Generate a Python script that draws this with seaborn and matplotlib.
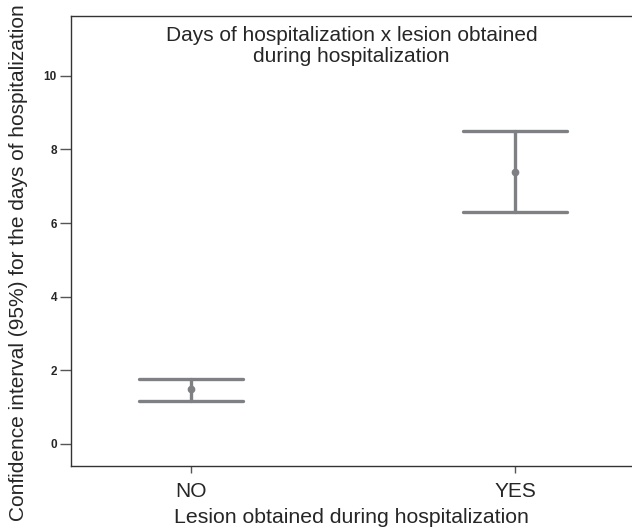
import matplotlib
matplotlib.use("Agg")
import matplotlib.pyplot as plt
import seaborn as sns
import pandas as pd
import numpy as np

# Lesion obtained during hospitalization: mean days and 95% CI bounds
groups = ['NO', 'YES']
ci_lower = [1.17, 6.30]
means = [1.48, 7.40]
ci_upper = [1.77, 8.51]

# long table: lower / mean / upper per group, so that the median is the mean
# and the full percentile interval is the CI
rows = []
for g, lo, m, hi in zip(groups, ci_lower, means, ci_upper):
    for v in (lo, m, hi):
        rows.append({'group': g, 'days': v})
df = pd.DataFrame(rows)

sns.set_style("white")
plt.rcParams['font.family'] = ['Liberation Sans', 'DejaVu Sans']

fig = plt.figure(figsize=(6.32, 5.27), dpi=100)
ax = fig.add_axes([0.112, 0.115, 0.888, 0.855])

grey = '#7f8083'
sns.pointplot(data=df, x='group', y='days', order=groups,
              estimator=np.median, errorbar=('pi', 100),
              linestyle='none', color=grey, markersize=3.5,
              capsize=0.32, err_kws={'linewidth': 2.4}, ax=ax)

ax.set_xlim(-0.37, 1.36)
ax.set_ylim(-0.61, 11.63)
ax.set_yticks([0, 2, 4, 6, 8, 10])

for side in ['left', 'bottom', 'top']:
    ax.spines[side].set_color('#333333')
    ax.spines[side].set_linewidth(1.0)
ax.spines['right'].set_visible(False)

ax.tick_params(axis='y', direction='out', length=8, width=1, color='#555555',
               pad=2, labelsize=8.5, left=True)
ax.tick_params(axis='x', direction='out', length=5, width=1, color='#555555',
               pad=6, labelsize=15, bottom=True)
for t in ax.get_yticklabels():
    t.set_fontweight('bold')

ax.set_xlabel('Lesion obtained during hospitalization', fontsize=15.3, labelpad=5)
ax.set_ylabel('')
fig.text(0.029, 0.502, 'Confidence interval (95%) for the days of hospitalization',
         rotation=90, ha='center', va='center', fontsize=15)

ax.text(0.5, 0.977, 'Days of hospitalization x lesion obtained\nduring hospitalization',
        transform=ax.transAxes, ha='center', va='top', fontsize=15,
        linespacing=1.1)

fig.savefig('out.png', dpi=100)
